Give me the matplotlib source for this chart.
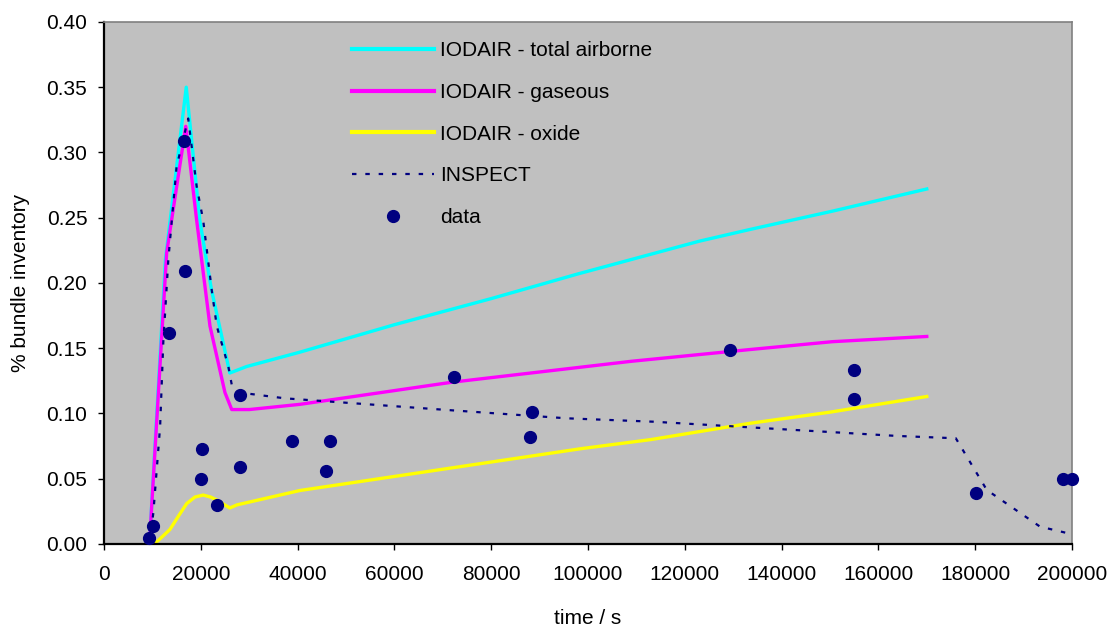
import matplotlib
matplotlib.use('Agg')
import matplotlib.pyplot as plt
from matplotlib.ticker import MultipleLocator, FormatStrFormatter

# IODAIR - total airborne
time_total = [9400, 12700, 17000, 19800, 22200, 26000, 29500, 40500, 60000,
              80000, 98000, 123000, 133500, 150500, 170000]
total = [0.0, 0.218, 0.350, 0.248, 0.195, 0.131, 0.136, 0.147, 0.168,
         0.188, 0.207, 0.232, 0.241, 0.255, 0.272]

# IODAIR - gaseous
time_gas = [9400, 12950, 16900, 19150, 21900, 25000, 26400, 30000, 40500,
            72000, 109000, 133500, 150500, 170000]
gas = [0.0, 0.223, 0.320, 0.248, 0.167, 0.116, 0.103, 0.103, 0.107,
       0.124, 0.140, 0.149, 0.155, 0.159]

# IODAIR - oxide
time_oxide = [9500, 11000, 13600, 15500, 17100, 18800, 20500, 22000, 23300,
              24500, 26000, 27500, 28700, 40500, 69500, 98500, 113000,
              133500, 150000, 170000]
oxide = [0.0, 0.002, 0.011, 0.022, 0.031, 0.036, 0.0375, 0.036, 0.0337,
         0.031, 0.0276, 0.030, 0.031, 0.041, 0.057, 0.073, 0.080,
         0.0925, 0.101, 0.113]

# INSPECT
time_inspect = [9400, 10200, 11600, 12250, 13300, 15000, 17400, 19150, 20500,
                22250, 23300, 25700, 26400, 28100, 37400, 70800, 95600,
                113500, 163800, 176000, 182400, 193400, 200000]
inspect = [0.0, 0.024, 0.090, 0.154, 0.218, 0.289, 0.326, 0.274, 0.248,
           0.195, 0.167, 0.136, 0.122, 0.116, 0.1116, 0.1027, 0.0963,
           0.0937, 0.0828, 0.081, 0.0414, 0.0133, 0.0075]

# measured data
data_time = [9300, 10100, 13400, 16500, 16700, 20050, 20250, 23400, 28100,
             28100, 38800, 45900, 46600, 72300, 88000, 88400, 129300,
             155000, 155000, 180200, 198200, 200000]
data_val = [0.0046, 0.0135, 0.162, 0.309, 0.209, 0.050, 0.073, 0.030, 0.114,
            0.059, 0.079, 0.056, 0.079, 0.128, 0.082, 0.101, 0.149,
            0.133, 0.111, 0.039, 0.050, 0.050]

plt.rcParams['font.family'] = ['Liberation Sans', 'DejaVu Sans']
plt.rcParams['font.size'] = 15

fig = plt.figure(figsize=(11.12, 6.26), dpi=100)
ax = fig.add_axes([0.0935, 0.131, 0.8705, 0.834])
ax.set_facecolor('#C0C0C0')

navy = '#000080'
ax.plot(time_total, total, color='#00FFFF', lw=2.4, label='IODAIR - total airborne')
ax.plot(time_gas, gas, color='#FF00FF', lw=2.4, label='IODAIR - gaseous')
ax.plot(time_oxide, oxide, color='#FFFF00', lw=2.4, label='IODAIR - oxide')
ax.plot(time_inspect, inspect, color=navy, lw=1.6, linestyle=(0, (2, 4)),
        label='INSPECT')
ax.plot(data_time, data_val, 'o', color=navy, markersize=8.5, clip_on=False,
        label='data', zorder=5)

ax.set_xlim(0, 200000)
ax.set_ylim(0, 0.40)
ax.xaxis.set_major_locator(MultipleLocator(20000))
ax.yaxis.set_major_locator(MultipleLocator(0.05))
ax.yaxis.set_major_formatter(FormatStrFormatter('%.2f'))
ax.xaxis.set_major_formatter(FormatStrFormatter('%d'))
ax.tick_params(direction='out', length=4, width=1, labelsize=15, pad=8)
ax.tick_params(axis='x', pad=11)

for side in ['left', 'bottom']:
    ax.spines[side].set_color('black')
    ax.spines[side].set_linewidth(1.6)
for side in ['top', 'right']:
    ax.spines[side].set_color('#808080')
    ax.spines[side].set_linewidth(1.2)

ax.set_xlabel('time / s', fontsize=15, labelpad=18)
ax.set_ylabel('% bundle inventory', fontsize=15, labelpad=12)

leg = ax.legend(loc='upper left', bbox_to_anchor=(0.256, 0.963), frameon=False,
                handlelength=3.95, handletextpad=0.3, labelspacing=1.09,
                fontsize=15, borderpad=0, borderaxespad=0)
for line in leg.get_lines()[:3]:
    line.set_linewidth(3)

plt.savefig('out.png', dpi=100)
